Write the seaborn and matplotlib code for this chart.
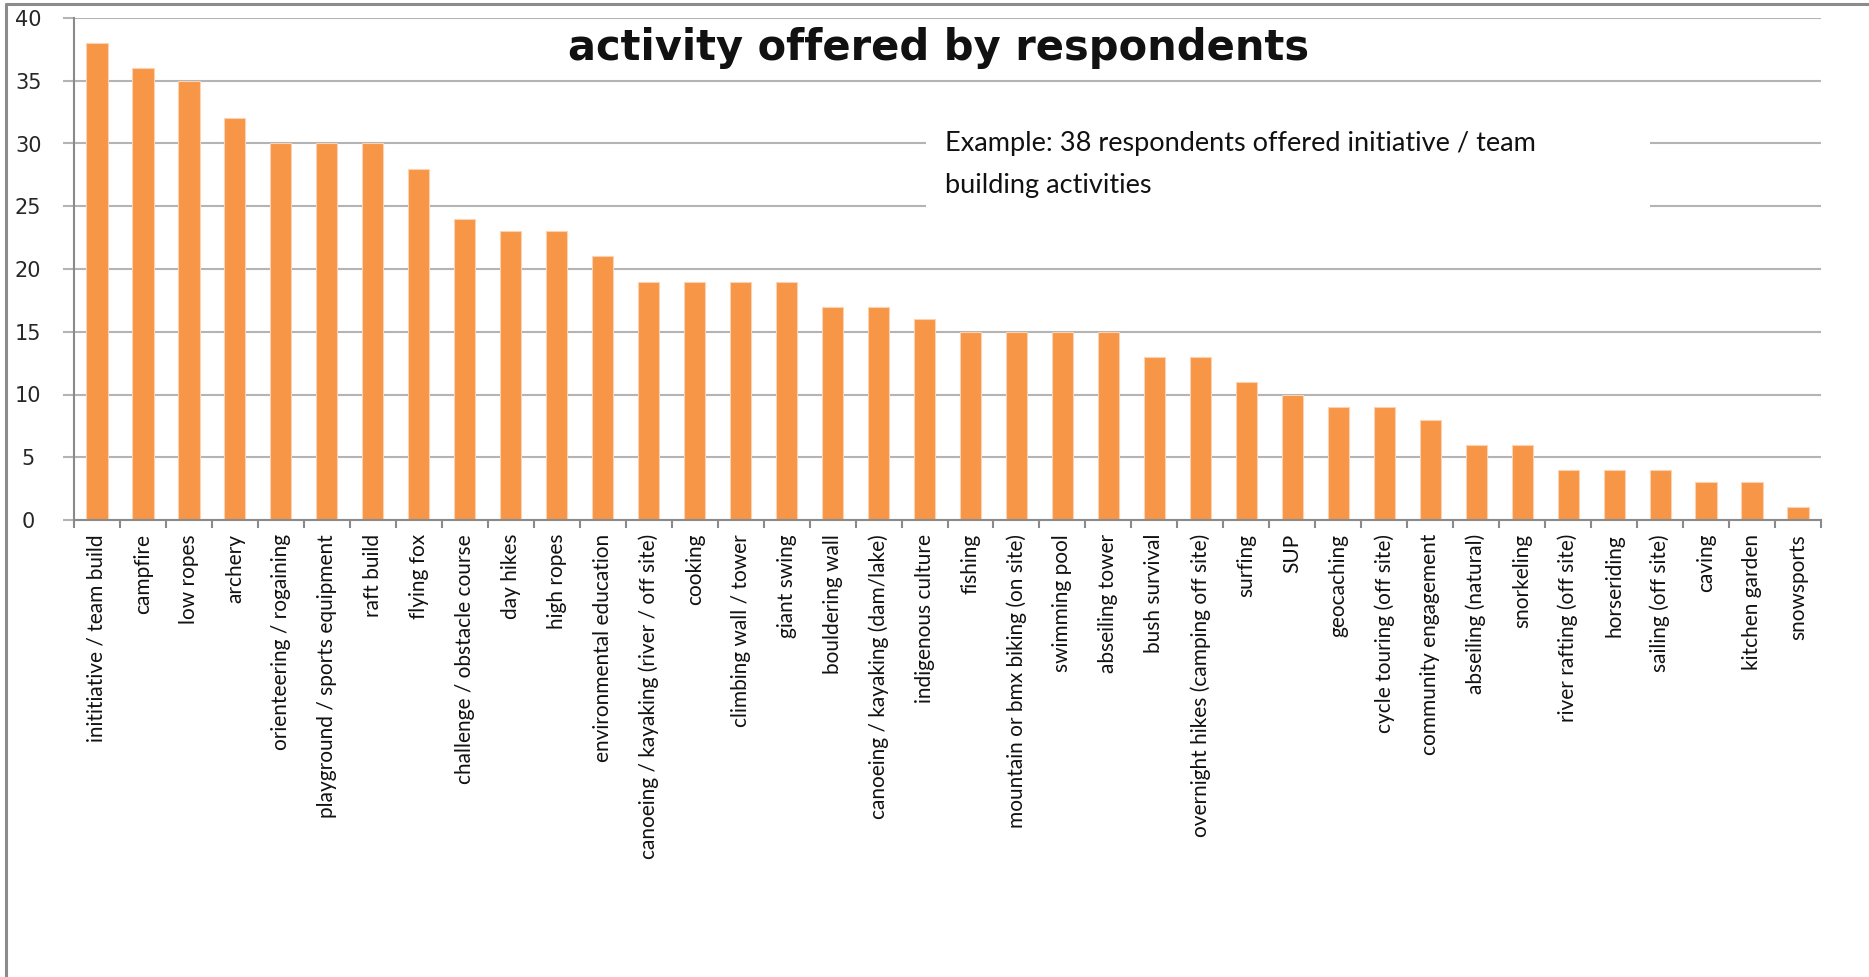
import matplotlib
matplotlib.use("Agg")
import matplotlib.pyplot as plt
from matplotlib.patches import Rectangle
from matplotlib.lines import Line2D
from matplotlib.ticker import FixedLocator, MultipleLocator
import seaborn as sns

activities = [
    "inititiative / team build", "campfire", "low ropes", "archery",
    "orienteering / rogaining", "playground / sports equipment", "raft build",
    "flying fox", "challenge / obstacle course", "day hikes", "high ropes",
    "environmental education", "canoeing / kayaking (river / off site)",
    "cooking", "climbing wall / tower", "giant swing", "bouldering wall",
    "canoeing / kayaking (dam/lake)", "indigenous culture", "fishing",
    "mountain or bmx biking (on site)", "swimming pool", "abseiling tower",
    "bush survival", "overnight hikes (camping off site)", "surfing", "SUP",
    "geocaching", "cycle touring (off site)", "community engagement",
    "abseiling (natural)", "snorkeling", "river rafting (off site)",
    "horseriding", "sailing (off site)", "caving", "kitchen garden",
    "snowsports",
]
respondents = [
    38, 36, 35, 32, 30, 30, 30, 28, 24, 23, 23, 21, 19, 19, 19, 19, 17, 17,
    16, 15, 15, 15, 15, 13, 13, 11, 10, 9, 9, 8, 6, 6, 4, 4, 4, 3, 3, 1,
]
y_ticks = [0, 5, 10, 15, 20, 25, 30, 35, 40]

title_text = "activity offered by respondents"
note_text = "Example: 38 respondents offered initiative / team\nbuilding activities"

sns.set_theme(style="white")
plt.rcParams["font.family"] = ["DejaVu Sans"]

W, H = 1869, 977
fig = plt.figure(figsize=(W / 100, H / 100), dpi=100)
fig.patch.set_facecolor("white")

left, right, top, bottom = 74, 1821, 18, 520
ax = fig.add_axes([left / W, 1 - bottom / H, (right - left) / W, (bottom - top) / H])
ax.set_facecolor("white")

sns.barplot(x=activities, y=respondents, color="#F79646", saturation=1,
            width=0.46, edgecolor="#fbd3b3", linewidth=0.8, ax=ax, zorder=2)

ax.set_xlim(-0.5, len(activities) - 0.5)
ax.set_ylim(0, 40)

# gridlines and axes
grid_col = "#b4b4b4"
axis_col = "#8a8a8a"
ax.set_axisbelow(True)
ax.yaxis.set_major_locator(FixedLocator(y_ticks))
ax.yaxis.grid(True, color=grid_col, linewidth=1.5)
ax.xaxis.grid(False)
for side in ("top", "right"):
    ax.spines[side].set_visible(False)
ax.spines["left"].set_color(axis_col)
ax.spines["left"].set_linewidth(1.5)
ax.spines["bottom"].set_color(axis_col)
ax.spines["bottom"].set_linewidth(1.5)

ax.tick_params(axis="y", which="major", left=True, length=8, width=1.5,
               color=grid_col, pad=25, labelsize=15, labelcolor="#262626")
for lab in ax.get_yticklabels():
    lab.set_horizontalalignment("center")

# category separators as minor ticks, labels on major ticks
ax.xaxis.set_minor_locator(MultipleLocator(1, offset=0.5))
ax.set_xticks(range(len(activities)))
ax.set_xticklabels(activities, rotation=90, fontfamily="Lato", fontsize=15,
                   color="#111111")
ax.tick_params(axis="x", which="major", bottom=False, length=0, pad=10)
ax.tick_params(axis="x", which="minor", bottom=True, length=6, width=1.5,
               color=axis_col)
ax.set_xlabel("")
ax.set_ylabel("")

# note box that interrupts the gridlines
fig.patches.append(Rectangle((926 / W, 1 - 226 / H), (1650 - 926) / W,
                             (226 - 108) / H, transform=fig.transFigure,
                             facecolor="white", edgecolor="none", zorder=1.5))
fig.text(945 / W, 1 - 164 / H, note_text, fontfamily="Lato", fontsize=19.5,
         ha="left", va="center", linespacing=1.85, color="#111111", zorder=5)

fig.text(939 / W, 1 - 48 / H, title_text, fontsize=30, fontweight="bold",
         ha="center", va="center", color="#111111")

# outer frame (top and left edges)
fig.add_artist(Line2D([6 / W, 1.0], [1 - 4 / H, 1 - 4 / H],
                      transform=fig.transFigure, color="#8c8c8c", linewidth=2.2))
fig.add_artist(Line2D([6 / W, 6 / W], [0.0, 1 - 4 / H],
                      transform=fig.transFigure, color="#8c8c8c", linewidth=2.2))

fig.savefig("out.png", dpi=100, facecolor="white")
